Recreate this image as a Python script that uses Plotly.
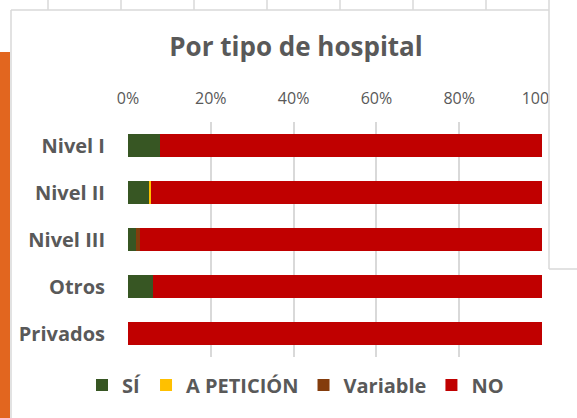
import plotly.graph_objects as go

categories = ["Nivel I", "Nivel II", "Nivel III", "Otros", "Privados"]
si = [0.077, 0.052, 0.019, 0.061, 0.0]
a_peticion = [0.0, 0.004, 0.0, 0.0, 0.0]
variable = [0.0, 0.0, 0.011, 0.0, 0.0]
no = [0.923, 0.944, 0.970, 0.939, 1.0]
tick_vals = [0, 0.2, 0.4, 0.6, 0.8, 1.0]
tick_text = ["0%", "20%", "40%", "60%", "80%", "100%"]

W, H = 577, 418
L, R, T, B = 128, 35, 122, 61
PW, PH = W - L - R, H - T - B

def px(x):
    return (x - L) / PW

def py(y):
    return 1 - (y - T) / PH

FONT = "Open Sans"
GRAY = "#595959"

series = [
    ("SÍ", si, "#375623"),
    ("A PETICIÓN", a_peticion, "#FFC000"),
    ("Variable", variable, "#843C0C"),
    ("NO", no, "#C00000"),
]

fig = go.Figure()
for name, vals, col in series:
    fig.add_trace(go.Bar(
        y=categories, x=vals, name=name, orientation="h",
        marker=dict(color=col, line=dict(width=0)),
        hoverinfo="skip",
    ))

shapes = []
# orange panel at left
shapes.append(dict(type="rect", xref="paper", yref="paper",
                   x0=px(-2), x1=px(10), y0=py(52), y1=py(425),
                   fillcolor="#E2661F", line=dict(width=0)))
# chart border
shapes.append(dict(type="line", xref="paper", yref="paper",
                   x0=px(11), x1=px(11), y0=py(10), y1=py(425),
                   line=dict(color="#D9D9D9", width=1.5)))
shapes.append(dict(type="line", xref="paper", yref="paper",
                   x0=px(11), x1=px(549), y0=py(10), y1=py(10),
                   line=dict(color="#D9D9D9", width=1.5)))
# table lines behind
for xv in [48, 121, 194, 267, 340, 413, 486]:
    shapes.append(dict(type="line", xref="paper", yref="paper",
                       x0=px(xv), x1=px(xv), y0=py(-2), y1=py(10),
                       line=dict(color="#D9D9D9", width=1.5)))
# overlapping white box on right
shapes.append(dict(type="rect", xref="paper", yref="paper", layer="above",
                   x0=px(549), x1=px(590), y0=py(-5), y1=py(269),
                   fillcolor="white", line=dict(width=0)))
shapes.append(dict(type="line", xref="paper", yref="paper", layer="above",
                   x0=px(549), x1=px(549), y0=py(-5), y1=py(269),
                   line=dict(color="#D9D9D9", width=1.5)))
shapes.append(dict(type="line", xref="paper", yref="paper", layer="above",
                   x0=px(549), x1=px(590), y0=py(269), y1=py(269),
                   line=dict(color="#D9D9D9", width=1.5)))

fig.update_layout(
    width=W, height=H,
    margin=dict(l=L, r=R, t=T, b=B, pad=0, autoexpand=False),
    paper_bgcolor="white", plot_bgcolor="white",
    barmode="stack", bargap=0.5,
    font=dict(family=FONT, color=GRAY),
    title=dict(text="<b>Por tipo de hospital</b>", xref="container", yref="container",
               x=296 / W, y=1 - 47 / H, xanchor="center", yanchor="middle",
               font=dict(size=26, color=GRAY, family=FONT)),
    xaxis=dict(range=[0, 1], side="top", tickvals=tick_vals, ticktext=tick_text,
               showgrid=True, gridcolor="#D9D9D9", gridwidth=1.5, zeroline=False,
               showline=False, ticks="", ticklabelstandoff=14,
               tickfont=dict(size=16, color=GRAY, family=FONT), fixedrange=True),
    yaxis=dict(autorange="reversed", showgrid=False, showline=False, zeroline=False,
               ticks="", ticklabelstandoff=22,
               tickfont=dict(size=20, color=GRAY, family=FONT, weight="bold")),
    legend=dict(orientation="h", xref="paper", yref="paper",
                x=px(82), y=py(385), xanchor="left", yanchor="middle",
                font=dict(size=20, color=GRAY, family=FONT, weight="bold"),
                traceorder="normal", itemwidth=30),
    shapes=shapes,
    showlegend=True,
)

fig.write_html("out.html", config={"displayModeBar": False},
               post_script="document.body.style.margin='0';")
